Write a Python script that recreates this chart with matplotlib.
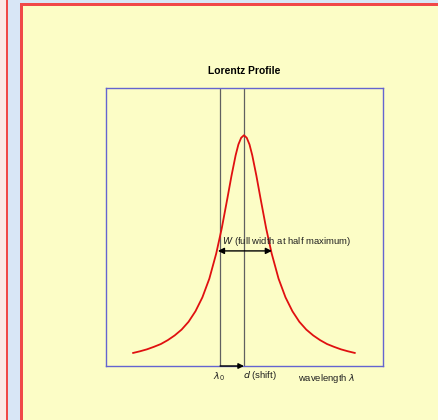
import matplotlib.pyplot as plt
from matplotlib.patches import Rectangle

plt.rcParams["font.family"] = ["Liberation Sans", "DejaVu Sans"]

# curve (wavelength units, relative intensity)
wavelength = [0.98, 1.23, 1.48, 1.73, 1.98, 2.23, 2.48, 2.73, 2.98, 3.23,
              3.48, 3.73, 3.98, 4.18, 4.38, 4.53, 4.68, 4.78, 4.88, 4.98,
              5.08, 5.18, 5.28, 5.43, 5.58, 5.78, 5.98, 6.23, 6.48, 6.73,
              6.98, 7.23, 7.48, 7.73, 7.98, 8.23, 8.48, 8.73, 8.98]
intensity = [0.047, 0.053, 0.060, 0.069, 0.079, 0.093, 0.110, 0.131, 0.159,
             0.197, 0.247, 0.314, 0.405, 0.496, 0.602, 0.684, 0.758, 0.797,
             0.821, 0.830, 0.821, 0.797, 0.758, 0.684, 0.602, 0.496, 0.405,
             0.314, 0.247, 0.197, 0.159, 0.131, 0.110, 0.093, 0.079, 0.069,
             0.060, 0.053, 0.047]
lambda0 = 4.12
center = 4.98
half_left = 4.04
half_right = 5.99
half_max = 0.414

W, H = 438, 420
fig = plt.figure(figsize=(W / 100, H / 100), dpi=100)
fig.patch.set_facecolor("#fcfdc6")


def px_rect(x0, y0, x1, y1, color):
    # pixel coords from top-left
    fig.add_artist(Rectangle((x0 / W, 1 - y1 / H), (x1 - x0) / W, (y1 - y0) / H,
                             transform=fig.transFigure, facecolor=color,
                             edgecolor="none", zorder=0))


px_rect(0, 0, 6, H, "#fce8e6")
px_rect(6, 0, 8, H, "#f04848")
px_rect(8, 0, W, 3, "#d8e6f6")
px_rect(8, 3, 20, H, "#d8e6f6")
px_rect(20, 3, 23, H, "#f04848")
px_rect(20, 3, W, 6, "#f04848")

ax = fig.add_axes([106 / W, 1 - 366 / H, 277 / W, 278 / H])
ax.set_facecolor("none")
for s in ax.spines.values():
    s.set_color("#6464d0")
    s.set_linewidth(1)
ax.set_xticks([])
ax.set_yticks([])
ax.set_xlim(0, 10)
ax.set_ylim(0, 1)

ax.axvline(lambda0, color="#606060", lw=0.9)
ax.axvline(center, color="#606060", lw=0.9)
ax.plot(wavelength, intensity, color="#e01010", lw=1.3)

ax.annotate("", xy=(half_left, half_max), xytext=(half_right, half_max),
            arrowprops=dict(arrowstyle="<|-|>", color="black", lw=1,
                            mutation_scale=9, shrinkA=0, shrinkB=0))
ax.text(lambda0 + 0.08, half_max + 0.012, r"$W$ (full width at half maximum)",
        fontsize=6.8, color="#202020", ha="left", va="bottom")

ax.annotate("", xy=(center, 0), xytext=(lambda0, 0),
            arrowprops=dict(arrowstyle="-|>", color="black", lw=1,
                            mutation_scale=8, shrinkA=0, shrinkB=0),
            annotation_clip=False)
ax.text(lambda0 - 0.05, -0.015, r"$\lambda_0$", fontsize=6.8, color="#202020",
        ha="center", va="top")
ax.text(center - 0.05, -0.012, r"$d$ (shift)", fontsize=6.8, color="#202020",
        ha="left", va="top")
ax.text(7.98, -0.02, r"wavelength $\lambda$", fontsize=6.8, color="#202020",
        ha="center", va="top")

ax.set_title("Lorentz Profile", fontsize=7.4, fontweight="bold", pad=10)

fig.savefig("out.png", dpi=100, facecolor=fig.get_facecolor())
